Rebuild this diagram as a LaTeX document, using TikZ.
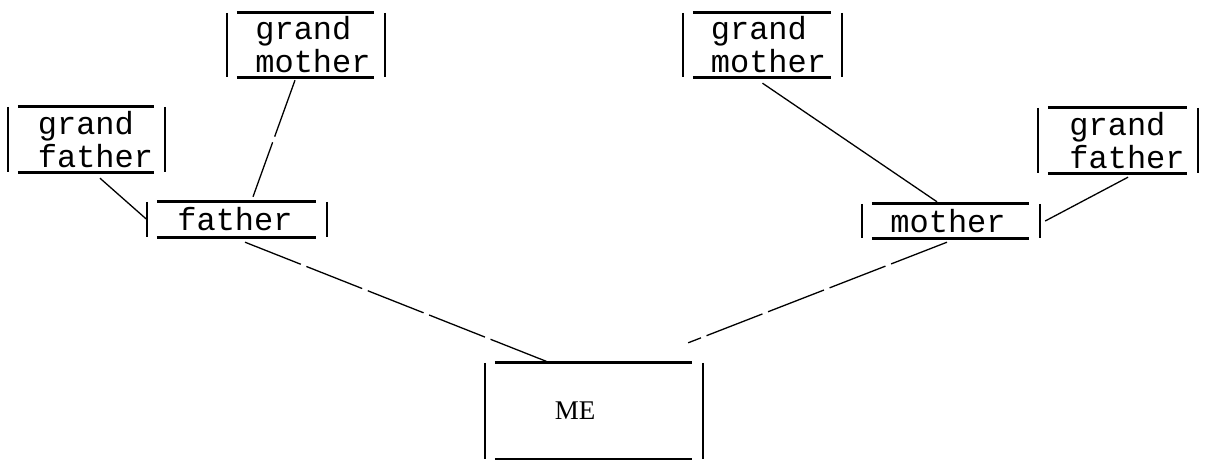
\documentclass[tikz,border=0pt]{standalone}
\usepackage{fontspec}
\setmonofont{Liberation Mono}
\newfontfamily\meserif{Liberation Serif}
\begin{document}
\begin{tikzpicture}[x=1pt,y=-1pt,
  boxnode/.style={inner sep=0pt},
  tlab/.style={inner sep=0pt, font=\fontsize{32}{33}\selectfont\ttfamily, align=left},
  hline/.style={line width=3pt},
  vbar/.style={line width=2pt},
  conn/.style={line width=1.3pt},
  broken/.style={conn, dash pattern=on 60pt off 6pt}]
\useasboundingbox (0,0) rectangle (1205,460);

% boxes
\node[boxnode, minimum width=158pt, minimum height=64pt,
      label={[tlab, xshift=7pt]center:{grand\\mother}}] (gml) at (306,45) {};
\node[boxnode, minimum width=157pt, minimum height=65pt,
      label={[tlab, xshift=9pt]center:{grand\\father}}] (gfl) at (86.5,139.5) {};
\node[boxnode, minimum width=180pt, minimum height=35pt,
      label={[tlab, xshift=-2pt]center:{father}}] (fa) at (237,219.5) {};
\node[boxnode, minimum width=159pt, minimum height=64pt,
      label={[tlab, xshift=6pt]center:{grand\\mother}}] (gmr) at (762.5,45) {};
\node[boxnode, minimum width=160pt, minimum height=65pt,
      label={[tlab, xshift=9pt]center:{grand\\father}}] (gfr) at (1118,140.5) {};
\node[boxnode, minimum width=178pt, minimum height=34pt,
      label={[tlab, xshift=-3pt]center:{mother}}] (mo) at (951,221) {};
\node[boxnode, minimum width=218pt, minimum height=96pt,
      label={[font=\fontsize{27}{30}\selectfont\meserif, xshift=-19pt]center:ME}] (me) at (594,411) {};

% typewriter-style box rules
\foreach \n in {gml,gfl,fa,gmr,gfr,mo,me} {
  \draw[hline] ([xshift=10pt]\n.north west) -- ([xshift=-11pt]\n.north east);
  \draw[hline] ([xshift=10pt]\n.south west) -- ([xshift=-11pt]\n.south east);
  \draw[vbar] (\n.north west) -- (\n.south west);
  \draw[vbar] (\n.north east) -- (\n.south east);
}

% connectors
\draw[conn] ([xshift=13.5pt,yshift=-6pt]gfl.south) -- (fa.west);
\draw[broken] ([xshift=-11pt,yshift=-3pt]gml.south) -- ([xshift=16pt,yshift=5pt]fa.north);
\draw[broken] ([xshift=8pt,yshift=-5pt]fa.south) -- ([xshift=-44pt]me.north);
\draw[conn] ([yshift=-6pt]gmr.south) -- ([xshift=-14pt,yshift=2pt]mo.north);
\draw[conn] ([xshift=10pt,yshift=-4pt]gfr.south) -- ([xshift=5pt]mo.east);
\draw[broken] ([xshift=-4pt,yshift=-4pt]mo.south) -- ([xshift=-15pt,yshift=20pt]me.north east);
\end{tikzpicture}
\end{document}
